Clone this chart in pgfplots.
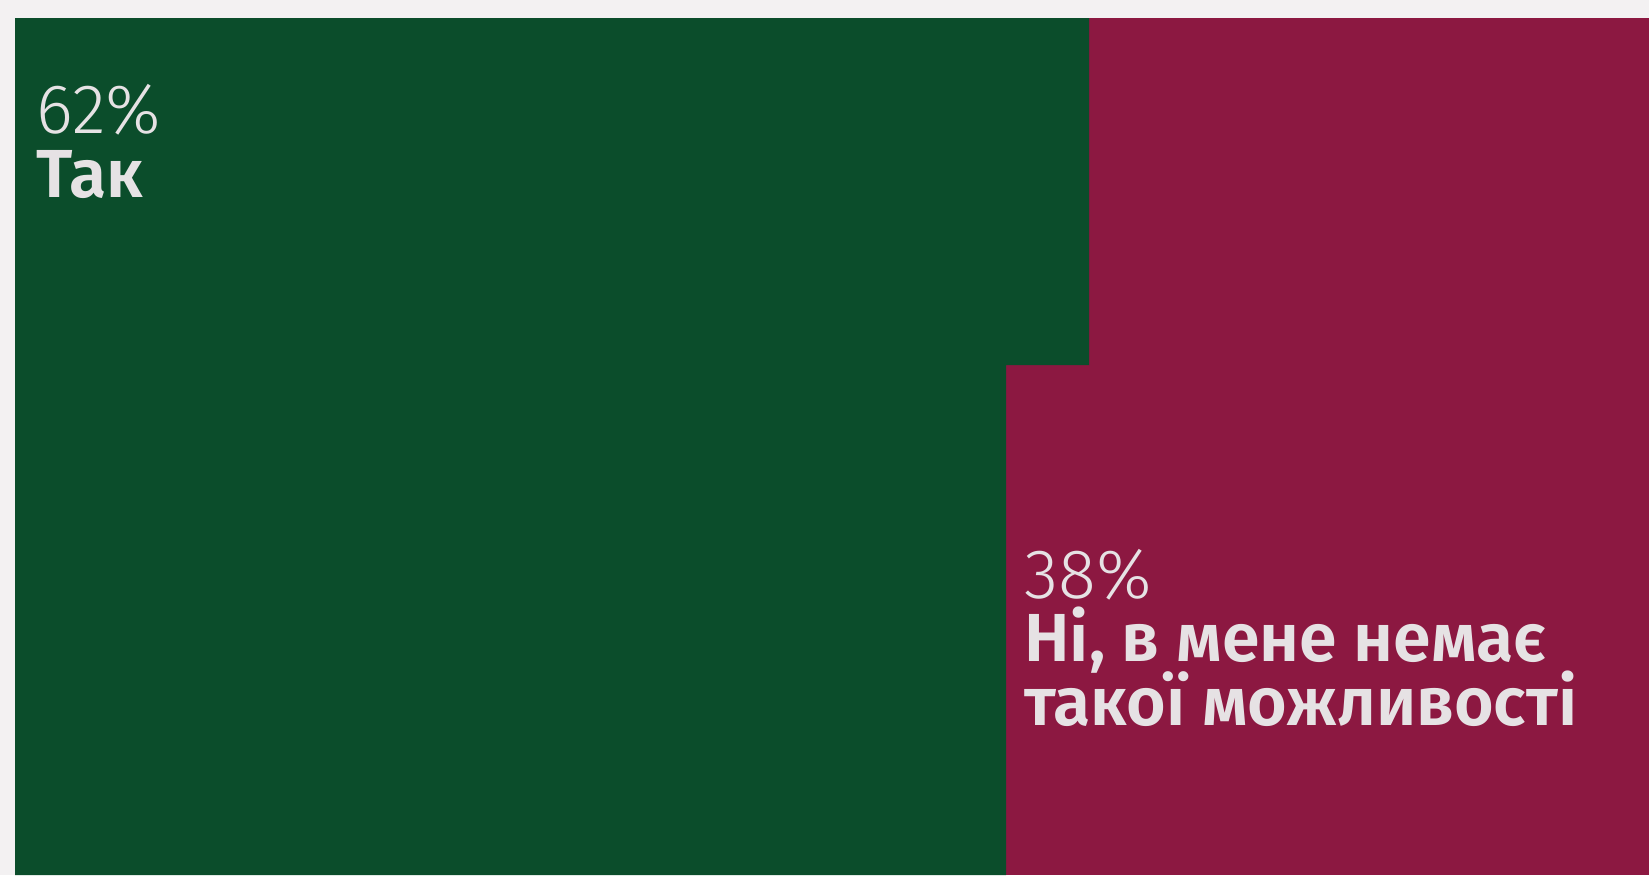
\documentclass[border=0pt]{standalone}
\usepackage{pgfplots}
\pgfplotsset{compat=1.18}
\usepackage{fontspec}
\setmainfont{Fira Sans}[UprightFont=* Light, BoldFont=* SemiBold]

\definecolor{bg}{HTML}{F3F1F2}
\definecolor{tak}{HTML}{0B4D2B}
\definecolor{ni}{HTML}{8C1841}
\definecolor{txt}{HTML}{E6E2E4}

\begin{document}
\begin{tikzpicture}
\begin{axis}[
    scale only axis,
    width=824.5pt, height=437.5pt,
    xmin=0, xmax=1649, ymin=0, ymax=875,
    y dir=reverse,
    hide axis,
    clip=false,
]
    \path[fill=bg] (rel axis cs:0,0) rectangle (rel axis cs:1,1);
    % 38% - Ni
    \addplot[fill=ni, draw=none] coordinates {
        (1006,18) (1649,18) (1649,875) (1006,875)
    };
    % 62% - Tak
    \addplot[fill=tak, draw=none] coordinates {
        (15,18) (1089,18) (1089,365) (1006,365) (1006,875) (15,875)
    };
    \node[anchor=base west, inner xsep=0pt, text=txt, font=\fontsize{35}{35}\selectfont]
        at (axis cs:36,133) {62\%};
    \node[anchor=base west, inner xsep=0pt, text=txt, font=\fontsize{34}{34}\bfseries]
        at (axis cs:36,197) {Так};
    \node[anchor=base west, inner xsep=0pt, text=txt, font=\fontsize{35}{35}\selectfont]
        at (axis cs:1024,598) {38\%};
    \node[anchor=base west, inner xsep=0pt, text=txt, font=\fontsize{34}{34}\bfseries]
        at (axis cs:1024,661) {Ні, в мене немає};
    \node[anchor=base west, inner xsep=0pt, text=txt, font=\fontsize{34}{34}\bfseries]
        at (axis cs:1024,725) {такої можливості};
\end{axis}
\end{tikzpicture}
\end{document}
